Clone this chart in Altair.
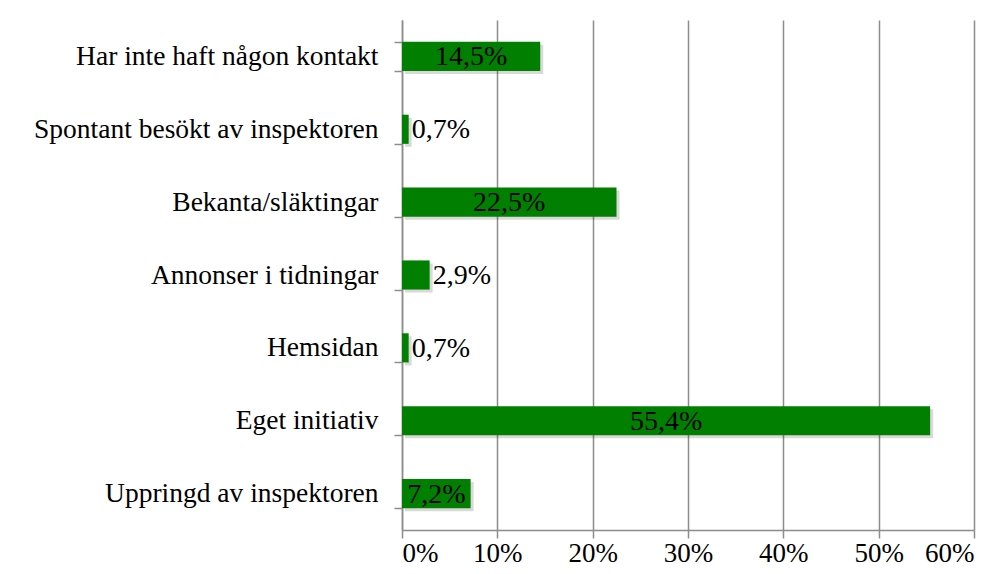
import altair as alt
import pandas as pd

categories = [
    "Har inte haft någon kontakt",
    "Spontant besökt av inspektoren\u00a0",
    "Bekanta/släktingar",
    "Annonser i tidningar\u00a0",
    "Hemsidan",
    "Eget initiativ\u00a0",
    "Uppringd av inspektoren",
]
values = [14.5, 0.7, 22.5, 2.9, 0.7, 55.4, 7.2]
labels = ["14,5%", "0,7%", "22,5%", "2,9%", "0,7%", "55,4%", "7,2%"]

df = pd.DataFrame({"cat": categories, "val": values, "lab": labels})
df["mid"] = df["val"] / 2

FONT = "Liberation Serif"
GREEN = "#007f00"
GRID = "#8c8c8c"

y_enc = alt.Y("cat:N", sort=categories, title=None,
              scale=alt.Scale(paddingInner=0.6, paddingOuter=0.3),
              axis=alt.Axis(domainColor=GRID, tickColor=GRID, tickSize=8, tickBand="extent",
                            labelFont=FONT, labelFontSize=27.5, labelColor="#000",
                            labelPadding=16, grid=False, labelLimit=450))
x_scale = alt.Scale(domain=[0, 60], nice=False)
x_axis = alt.Axis(values=[0, 10, 20, 30, 40, 50, 60], labelExpr="datum.value + '%'",
                  domainColor=GRID, tickColor=GRID, tickSize=8, gridColor=GRID, gridWidth=1.5,
                  labelFont=FONT, labelFontSize=27, labelColor="#000", labelPadding=2,
                  domainWidth=1.5, tickWidth=1.5)

base = alt.Chart(df)

shadow = base.mark_bar(color="#000", opacity=0.15, xOffset=3, yOffset=3).encode(
    x=alt.X("val:Q", scale=x_scale, axis=x_axis, title=None), y=y_enc)
bars = base.mark_bar(color=GREEN).encode(
    x=alt.X("val:Q", scale=x_scale, axis=x_axis, title=None), y=y_enc)
inner = base.transform_filter("datum.val > 5").mark_text(
    font=FONT, fontSize=28, color="#000", align="center", baseline="middle", dy=1).encode(
    x=alt.X("mid:Q", scale=x_scale), y=alt.Y("cat:N", sort=categories), text="lab:N")
outer = base.transform_filter("datum.val <= 5").mark_text(
    font=FONT, fontSize=28, color="#000", align="left", baseline="middle", dx=3, dy=1).encode(
    x=alt.X("val:Q", scale=x_scale), y=alt.Y("cat:N", sort=categories), text="lab:N")

chart = alt.layer(shadow, bars, inner, outer).properties(
    width=572, height=510,
    autosize=alt.AutoSizeParams(type="none"),
    padding={"left": 394, "top": 12, "right": 19, "bottom": 36},
).configure_view(stroke=None).configure_axisY(domainWidth=1.5, tickWidth=1.5)

chart.save("out.html", embed_options={"renderer": "svg", "actions": False})
